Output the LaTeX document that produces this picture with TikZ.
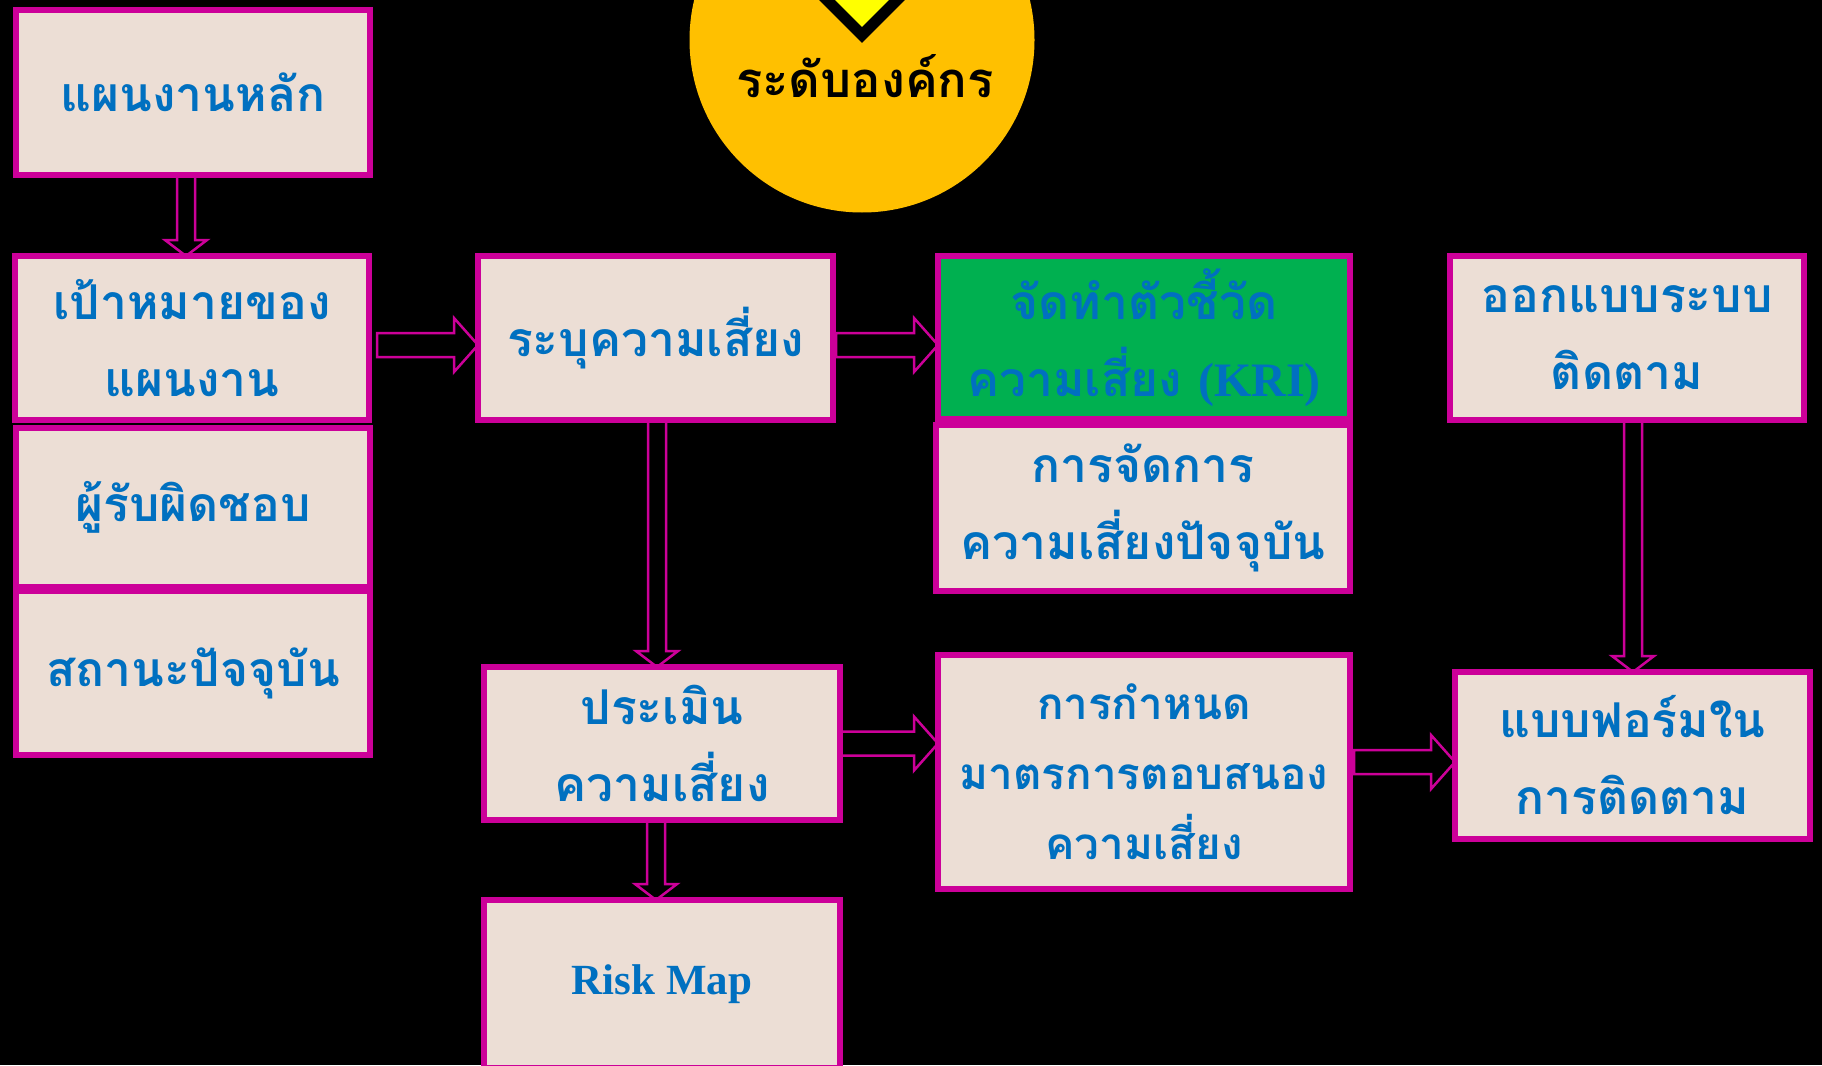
\documentclass[tikz,border=0pt]{standalone}
\usepackage{fontspec}
\usetikzlibrary{calc}
\newfontfamily\thaifont[Script=Thai]{Loma}
\newfontfamily\latinserif{Liberation Serif}

\definecolor{boxfill}{HTML}{ECDED5}
\definecolor{boxline}{HTML}{CC0099}
\definecolor{txtblue}{HTML}{0070C0}
\definecolor{kpigreen}{HTML}{00B050}
\definecolor{circfill}{HTML}{FFC000}
\definecolor{tipyellow}{HTML}{FFFF00}

\tikzset{
  box/.style={draw=boxline, line width=6pt, fill=boxfill, text=txtblue,
    align=center, inner sep=0pt, outer sep=0pt,
    font=\thaifont\bfseries\fontsize{48}{77}\selectfont},
  smallbox/.style={box, font=\thaifont\bfseries\fontsize{44}{70}\selectfont},
  flow/.style={draw=boxline, line width=2.5pt, line join=miter},
}

% hollow block arrow pointing down, from a point to the top of a box
\newcommand\blockdown[2]{%
  \draw[flow] let \p1=(#1), \p2=(#2) in
    (\x1-9pt,\y1) -- (\x1-9pt,\y2+16pt) -- (\x1-21pt,\y2+16pt) -- (\x1,\y2)
    -- (\x1+21pt,\y2+16pt) -- (\x1+9pt,\y2+16pt) -- (\x1+9pt,\y1) -- cycle;}
% hollow block arrow pointing right, from a point to the side of a box
\newcommand\blockright[2]{%
  \draw[flow] let \p1=(#1), \p2=(#2) in
    (\x1,\y1+12pt) -- (\x2-24pt,\y1+12pt) -- (\x2-24pt,\y1+27pt) -- (\x2,\y1)
    -- (\x2-24pt,\y1-27pt) -- (\x2-24pt,\y1-12pt) -- (\x1,\y1-12pt) -- cycle;}

\begin{document}
\begin{tikzpicture}[x=1pt,y=-1pt]
  \useasboundingbox (0,0) rectangle (1822,1065);
  \fill[black] (0,0) rectangle (1822,1065);
  \clip (0,0) rectangle (1822,1065);

  % level badge
  \fill[circfill] (862,40) circle[radius=172.5pt];
  \draw[line width=11pt, draw=black, fill=tipyellow, line join=miter]
    (862,35) -- (962,-65) -- (862,-165) -- (762,-65) -- cycle;
  \node[anchor=base, text=black, font=\thaifont\bfseries\fontsize{49}{60}\selectfont]
    (lvl) at (865,97) {ระดับองค์กร};

  % left column
  \node[box, minimum width=354pt, minimum height=165pt] (plan) at (193,92.5) {แผนงานหลัก};
  \node[box, minimum width=354pt, minimum height=164pt] (goal) at (192,338) {เป้าหมายของ\\แผนงาน};
  \node[box, minimum width=354pt, minimum height=159pt] (owner) at (193,507) {ผู้รับผิดชอบ};
  \node[box, minimum width=354pt, minimum height=164pt] (status) at (193,673) {สถานะปัจจุบัน};

  % middle column
  \node[box, minimum width=355pt, minimum height=164pt] (ident) at (655.5,338) {ระบุความเสี่ยง};
  \node[box, minimum width=356pt, minimum height=153pt] (assess) at (662,743.5) {ประเมิน\\ความเสี่ยง};
  \node[box, minimum width=356pt, minimum height=168pt] (rmap) at (662,984)
    {\latinserif\bfseries\fontsize{43}{50}\selectfont Risk Map};

  % third column
  \node[box, fill=kpigreen, minimum width=412pt, minimum height=163pt] (kri) at (1144,337.5)
    {จัดทำตัวชี้วัด\\ความเสี่ยง {\latinserif\bfseries (KRI)}};
  \node[box, minimum width=414pt, minimum height=166pt] (curr) at (1143,508)
    {การจัดการ\\ความเสี่ยงปัจจุบัน};
  \node[smallbox, minimum width=412pt, minimum height=234pt] (resp) at (1144,772)
    {การกำหนด\\มาตรการตอบสนอง\\ความเสี่ยง};

  % right column
  \node[box, minimum width=354pt, minimum height=164pt] (design) at (1627,338) {ออกแบบระบบ\\ติดตาม};
  \node[box, minimum width=355pt, minimum height=167pt] (form) at (1632.5,755.5) {แบบฟอร์มใน\\การติดตาม};

  % connectors
  \blockdown{$(plan.south)+(-7,0)$}{goal.north}
  \blockright{$(goal.east)+(8,7)$}{ident.west}
  \blockright{$(ident.east)+(3,7)$}{kri.west}
  \blockdown{$(ident.south)+(1.5,0)$}{assess.north}
  \blockdown{$(assess.south)+(-6,0)$}{rmap.north}
  \blockright{assess.east}{resp.west}
  \blockright{$(resp.east)+(4,-10)$}{form.west}
  \blockdown{$(design.south)+(6,0)$}{form.north}
\end{tikzpicture}
\end{document}
